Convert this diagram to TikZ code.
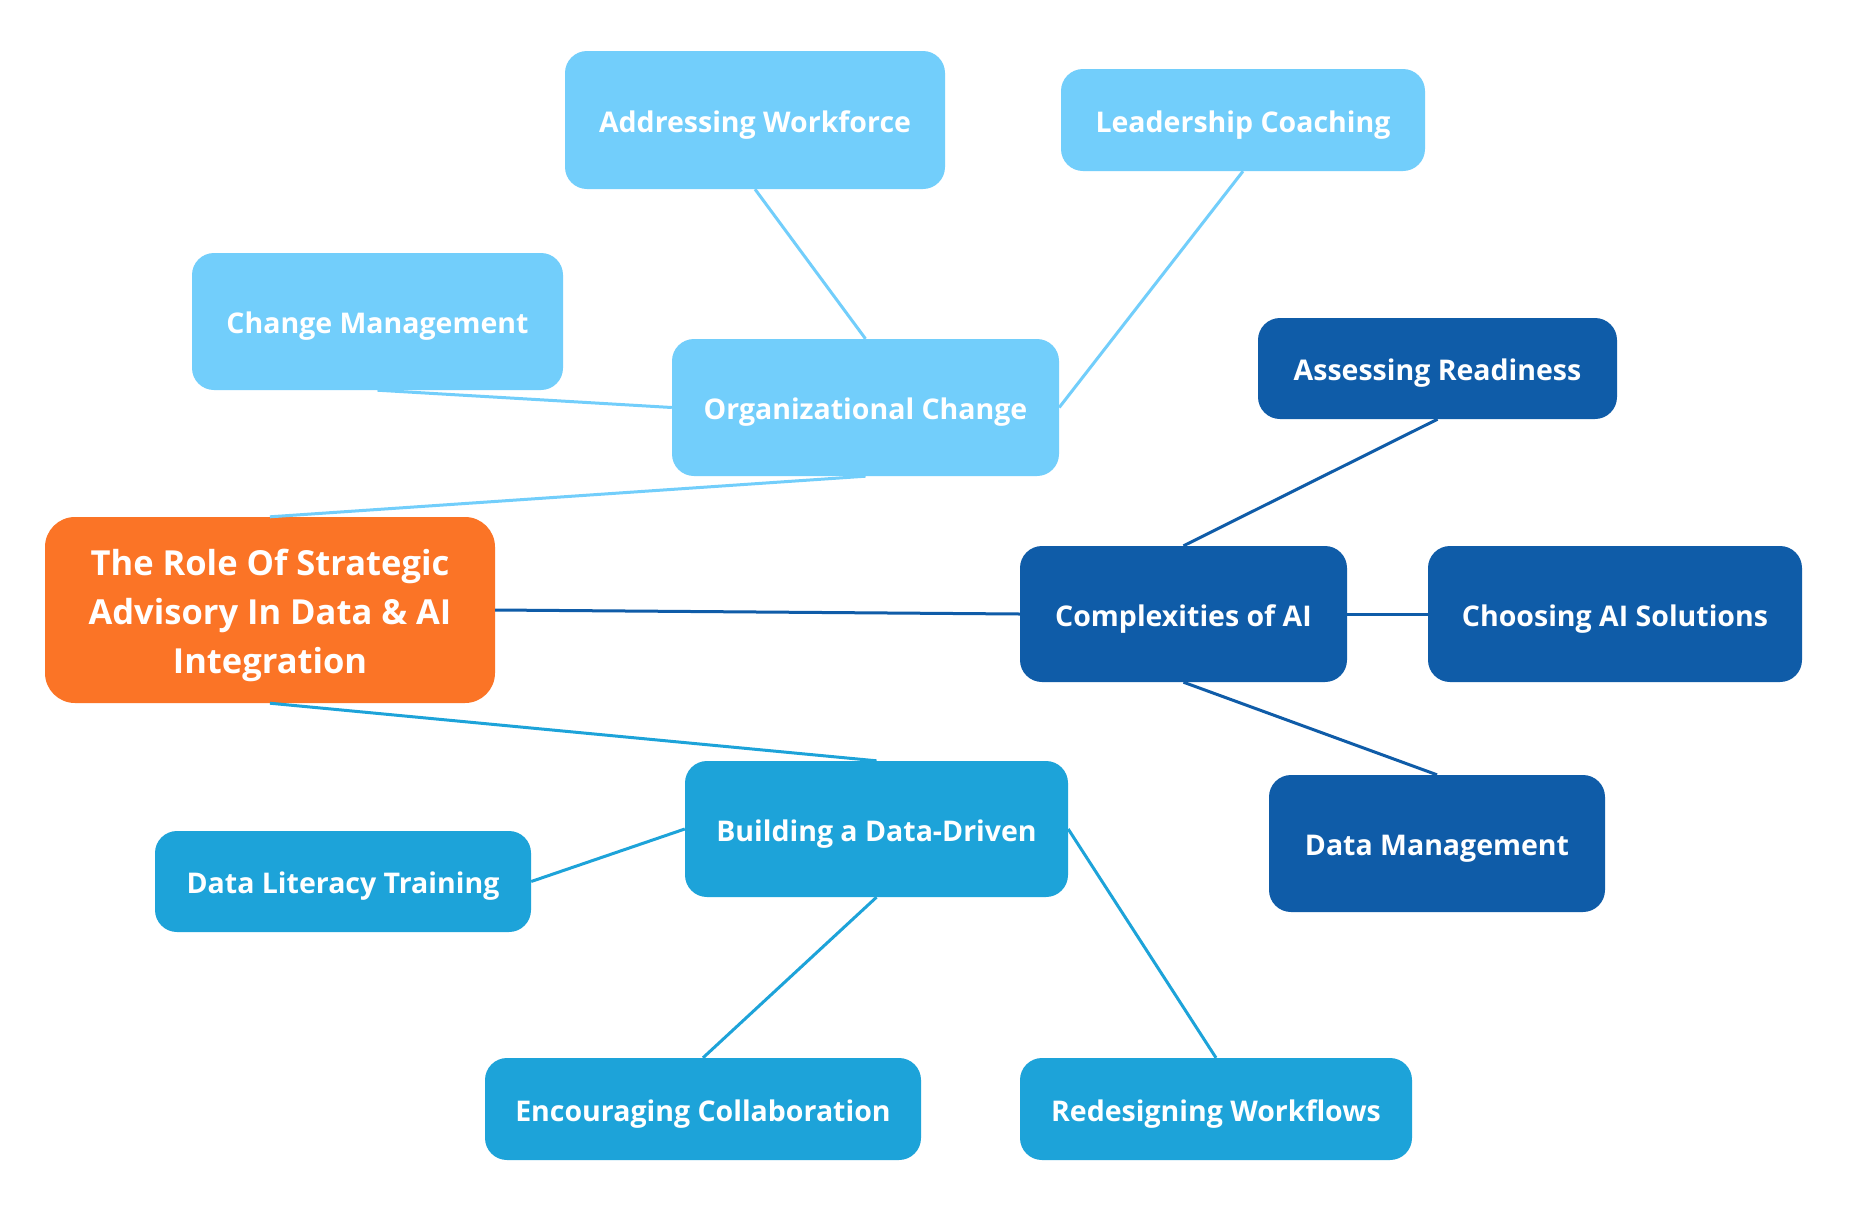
\documentclass[tikz,border=0pt]{standalone}
\usepackage{fontspec}
\setmainfont{Open Sans}
\definecolor{lightb}{HTML}{72CEFB}
\definecolor{darkb}{HTML}{0F5CA8}
\definecolor{medb}{HTML}{1DA3D9}
\definecolor{orng}{HTML}{FB7426}
\newcommand{\dn}[1]{\raisebox{-5pt}[\height][\depth]{#1}}
\begin{document}
\begin{tikzpicture}[x=1pt,y=-1pt,
  box/.style={rounded corners=22pt, inner sep=0pt, text=white, align=center,
    font=\fontsize{28.5}{34}\selectfont\bfseries},
  lbox/.style={box, fill=lightb},
  dbox/.style={box, fill=darkb},
  mbox/.style={box, fill=medb},
  rbox/.style={box, fill=orng, font=\fontsize{34.5}{49}\selectfont\bfseries, rounded corners=30pt},
  lline/.style={draw=lightb, line width=3pt},
  dline/.style={draw=darkb, line width=3pt},
  mline/.style={draw=medb, line width=3pt}]
\useasboundingbox[fill=white] (0,0) rectangle (1861,1208);
% nodes
\node[lbox, minimum width=380pt, minimum height=138pt] (aw) at (755,120) {\dn{Addressing Workforce}};
\node[lbox, minimum width=364pt, minimum height=102pt] (lc) at (1243,120) {\dn{Leadership Coaching}};
\node[lbox, minimum width=371pt, minimum height=137pt] (cm) at (377.5,321.5) {\dn{Change Management}};
\node[lbox, minimum width=387pt, minimum height=137pt] (oc) at (865.5,407.5) {\dn{Organizational Change}};
\node[dbox, minimum width=359pt, minimum height=101pt] (ar) at (1437.5,368.5) {\dn{Assessing Readiness}};
\node[rbox, minimum width=450pt, minimum height=186pt] (root) at (270,610) {\dn{\begin{tabular}{@{}c@{}}The Role Of Strategic\\Advisory In Data \& AI\\Integration\end{tabular}}};
\node[dbox, minimum width=327pt, minimum height=136pt] (ca) at (1183.5,614) {\dn{Complexities of AI}};
\node[dbox, minimum width=374pt, minimum height=136pt] (cs) at (1615,614) {\dn{Choosing AI Solutions}};
\node[mbox, minimum width=383pt, minimum height=136pt] (bd) at (876.5,829) {\dn{Building a Data-Driven}};
\node[mbox, minimum width=376pt, minimum height=101pt] (dl) at (343,881.5) {\dn{Data Literacy Training}};
\node[dbox, minimum width=336pt, minimum height=137pt] (dm) at (1437,843.5) {\dn{Data Management}};
\node[mbox, minimum width=436pt, minimum height=102pt] (ec) at (703,1109) {\dn{Encouraging Collaboration}};
\node[mbox, minimum width=392pt, minimum height=102pt] (rw) at (1216,1109) {\dn{Redesigning Workflows}};
% connectors
\draw[lline] (aw.south) -- (oc.north);
\draw[lline] (lc.south) -- (oc.east);
\draw[lline] (cm.south) -- (oc.west);
\draw[lline] (oc.south) -- (root.north);
\draw[dline] (root.east) -- (ca.west);
\draw[dline] (ca.north) -- (ar.south);
\draw[dline] (ca.east) -- (cs.west);
\draw[dline] (ca.south) -- (dm.north);
\draw[mline] (root.south) -- (bd.north);
\draw[mline] (bd.west) -- (dl.east);
\draw[mline] (bd.south) -- (ec.north);
\draw[mline] (bd.east) -- (rw.north);
\end{tikzpicture}
\end{document}
